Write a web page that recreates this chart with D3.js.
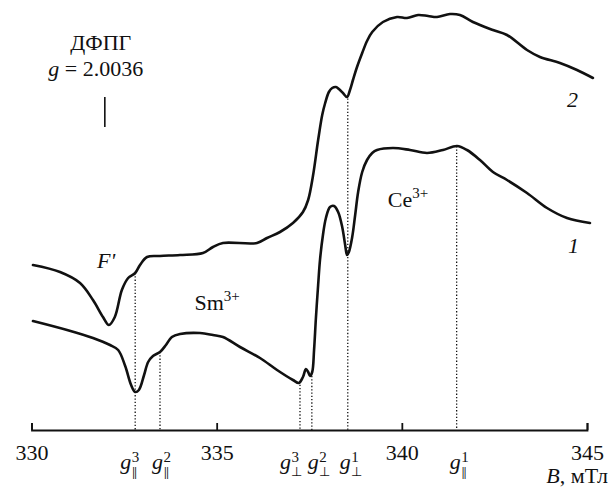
<!DOCTYPE html>
<html>
<head>
<meta charset="utf-8">
<script src="https://cdn.jsdelivr.net/npm/d3@7"></script>
<style>
  html, body { margin: 0; padding: 0; background: #fff; }
  svg { display: block; }
</style>
</head>
<body>
<svg id="chart" width="611" height="487"></svg>
<script>
// Magnetic field axis (mT)
const fieldTicks = [330, 335, 340, 345];

// Spectrum 1 (lower trace): field, mT / signal, arb. units
const spectrum1Field = [
  330.04, 330.96, 331.66, 332.12, 332.34, 332.53, 332.69, 332.80, 332.90, 333.04,
  333.15, 333.28, 333.47, 333.63, 333.79, 334.01, 334.55, 334.90, 335.17, 335.63,
  336.17, 336.63, 337.06, 337.22, 337.33, 337.41, 337.47, 337.52, 337.58, 337.63,
  337.68, 337.74, 337.79, 337.87, 337.95, 338.06, 338.17, 338.28, 338.39, 338.47,
  338.52, 338.57, 338.66, 338.74, 338.82, 338.93, 339.06, 339.20, 339.33, 339.76,
  340.22, 340.68, 341.11, 341.49, 341.76, 342.11, 342.46, 342.84, 343.38, 343.92,
  344.46, 345.08
];
const spectrum1Signal = [
  10.9, 10.0, 9.2, 8.5, 8.0, 6.4, 4.5, 3.8, 4.0, 5.5,
  6.8, 7.4, 7.8, 8.5, 9.3, 9.6, 9.7, 9.5, 9.3, 8.3,
  7.2, 6.0, 5.0, 4.7, 5.3, 6.1, 5.8, 5.4, 5.8, 8.0,
  11.2, 14.5, 17.0, 19.5, 21.2, 22.3, 22.4, 21.8, 20.3, 18.5,
  17.5, 17.8, 19.3, 21.5, 23.8, 25.8, 27.0, 27.7, 28.0, 28.2,
  28.0, 27.7, 28.0, 28.4, 28.0, 27.0, 25.8, 25.0, 23.7, 22.2,
  21.2, 20.7
];

// Spectrum 2 (upper trace)
const spectrum2Field = [
  330.04, 330.77, 331.31, 331.66, 331.93, 332.09, 332.25, 332.44, 332.61, 332.80,
  332.93, 333.12, 333.47, 334.01, 334.63, 334.90, 335.17, 336.09, 336.36, 336.71,
  337.06, 337.33, 337.47, 337.60, 337.74, 337.85, 337.93, 338.03, 338.12, 338.22,
  338.30, 338.41, 338.52, 338.60, 338.68, 338.79, 338.93, 339.06, 339.20, 339.49,
  339.87, 340.14, 340.44, 340.71, 340.95, 341.30, 341.57, 341.92, 342.46, 342.84,
  343.38, 343.73, 344.27, 344.73, 345.16
];
const spectrum2Signal = [
  16.5, 15.8, 14.7, 13.0, 11.3, 10.5, 11.3, 14.0, 15.2, 15.7,
  16.5, 17.3, 17.4, 17.5, 17.7, 18.3, 18.7, 18.7, 19.2, 19.8,
  20.7, 21.8, 23.0, 25.4, 29.0, 31.5, 32.7, 33.8, 34.2, 34.3,
  34.1, 33.7, 33.3, 34.0, 35.0, 36.3, 37.7, 38.9, 39.8, 40.8,
  41.3, 41.2, 41.5, 41.4, 41.3, 41.6, 41.5, 40.8, 40.0, 39.5,
  38.0, 37.3, 36.7, 36.0, 35.2
];

// g-factor markers
const markerField = [332.80, 333.47, 337.25, 337.57, 338.54, 341.48];
const markerIndex = ["3", "2", "3", "2", "1", "1"];
const markerKind = ["par", "par", "perp", "perp", "perp", "par"];
const markerTrace = [2, 1, 1, 1, 2, 1];

// DPPH reference
const dpphField = 331.98;

const FONT = "Liberation Serif";
const ink = "#111";
const svg = d3.select("#chart");
const x = d3.scaleLinear().domain([330, 345]).range([31.5, 587]);
const y = d3.scaleLinear().domain([0, 43]).range([430, 0]);

// Text helper with serif face set as attributes
function label(parent, px, py, size, italic) {
  return parent.append("text")
    .attr("x", px).attr("y", py)
    .attr("font-family", FONT)
    .attr("font-size", size)
    .attr("font-style", italic ? "italic" : "normal")
    .attr("fill", ink);
}

// Axis: ticks point upward, labels below
const axis = d3.axisBottom(x)
  .tickValues(fieldTicks)
  .tickSize(-7)
  .tickSizeOuter(-7)
  .tickPadding(14)
  .tickFormat(d3.format("d"));

const gAxis = svg.append("g")
  .attr("transform", `translate(0,${y(0)})`)
  .call(axis)
  .attr("font-family", FONT)
  .attr("font-size", 22);
gAxis.select(".domain").attr("stroke", ink).attr("stroke-width", 1.8);
gAxis.selectAll(".tick line").attr("stroke", ink).attr("stroke-width", 1.8);
gAxis.selectAll(".tick text").attr("fill", ink);

// Axis title
const title = label(svg, 608, 483, 22, false).attr("text-anchor", "end");
title.append("tspan").attr("font-style", "italic").text("B");
title.append("tspan").text(", мТл");

// Linear lookup of a trace at a given field
function traceValue(fields, signals, b) {
  const i = d3.bisectLeft(fields, b);
  if (i <= 0) return signals[0];
  if (i >= fields.length) return signals[signals.length - 1];
  const t = (b - fields[i - 1]) / (fields[i] - fields[i - 1]);
  return signals[i - 1] + t * (signals[i] - signals[i - 1]);
}

const traces = {
  1: { f: spectrum1Field, s: spectrum1Signal },
  2: { f: spectrum2Field, s: spectrum2Signal }
};

// Dotted drop lines for the g-factor positions
const markers = markerField.map((b, i) => ({
  b,
  idx: markerIndex[i],
  kind: markerKind[i],
  top: traceValue(traces[markerTrace[i]].f, traces[markerTrace[i]].s, b)
}));

svg.append("g")
  .selectAll("line")
  .data(markers)
  .join("line")
  .attr("x1", d => x(d.b))
  .attr("x2", d => x(d.b))
  .attr("y1", d => y(d.top))
  .attr("y2", y(0))
  .attr("stroke", ink)
  .attr("stroke-width", 1.3)
  .attr("stroke-dasharray", "1.3,2");

// Spectra
const line = d3.line()
  .x(d => x(d[0]))
  .y(d => y(d[1]))
  .curve(d3.curveCatmullRom.alpha(0.5));

[1, 2].forEach(k => {
  svg.append("path")
    .datum(d3.zip(traces[k].f, traces[k].s))
    .attr("fill", "none")
    .attr("stroke", ink)
    .attr("stroke-width", 2.6)
    .attr("stroke-linejoin", "round")
    .attr("stroke-linecap", "round")
    .attr("d", line);
});

// g-factor labels under the axis: g with stacked index / orientation
const labelShift = [-15, -8, -20, -4, -8, -7];
const gLab = svg.append("g")
  .attr("opacity", 0.995)
  .selectAll("text")
  .data(markers)
  .join("text")
  .attr("x", (d, i) => x(d.b) + labelShift[i])
  .attr("y", 469)
  .attr("font-family", FONT)
  .attr("font-size", 22)
  .attr("fill", ink);

gLab.append("tspan")
  .attr("font-style", "italic")
  .text("g");
gLab.append("tspan")
  .attr("dx", 0.5)
  .attr("dy", -7)
  .attr("font-size", 15)
  .text(d => d.idx);
gLab.append("tspan")
  .attr("dx", d => d.kind === "par" ? -7 : -8)
  .attr("dy", 14)
  .attr("font-size", d => d.kind === "par" ? 12 : 13)
  .attr("font-weight", d => d.kind === "par" ? "bold" : "normal")
  .attr("letter-spacing", d => d.kind === "par" ? -0.5 : 0)
  .text(d => d.kind === "par" ? "||" : "⊥");

// DPPH reference mark
const dx = x(dpphField);
svg.append("line")
  .attr("x1", dx).attr("x2", dx)
  .attr("y1", y(33.3)).attr("y2", y(30.3))
  .attr("stroke", ink)
  .attr("stroke-width", 1.6);
label(svg, dx - 4, 50, 22, false)
  .attr("text-anchor", "middle")
  .text("ДФПГ");
const gText = label(svg, dx - 9, 76, 22, false).attr("text-anchor", "middle");
gText.append("tspan").attr("font-style", "italic").text("g");
gText.append("tspan").text(" = 2.0036");

// Signal annotations
function ionLabel(b, v, base, charge) {
  const t = label(svg, x(b), y(v), 22, false);
  t.append("tspan").text(base);
  t.append("tspan").attr("dy", -9).attr("font-size", 15).text(charge);
}
ionLabel(334.40, 12.0, "Sm", "3+");
ionLabel(339.62, 22.3, "Ce", "3+");

label(svg, x(331.77), y(16.2), 22, true).text("F'");
label(svg, x(344.46), y(32.3), 22, true).text("2");
label(svg, x(344.49), y(17.7), 22, true).text("1");
</script>
</body>
</html>
